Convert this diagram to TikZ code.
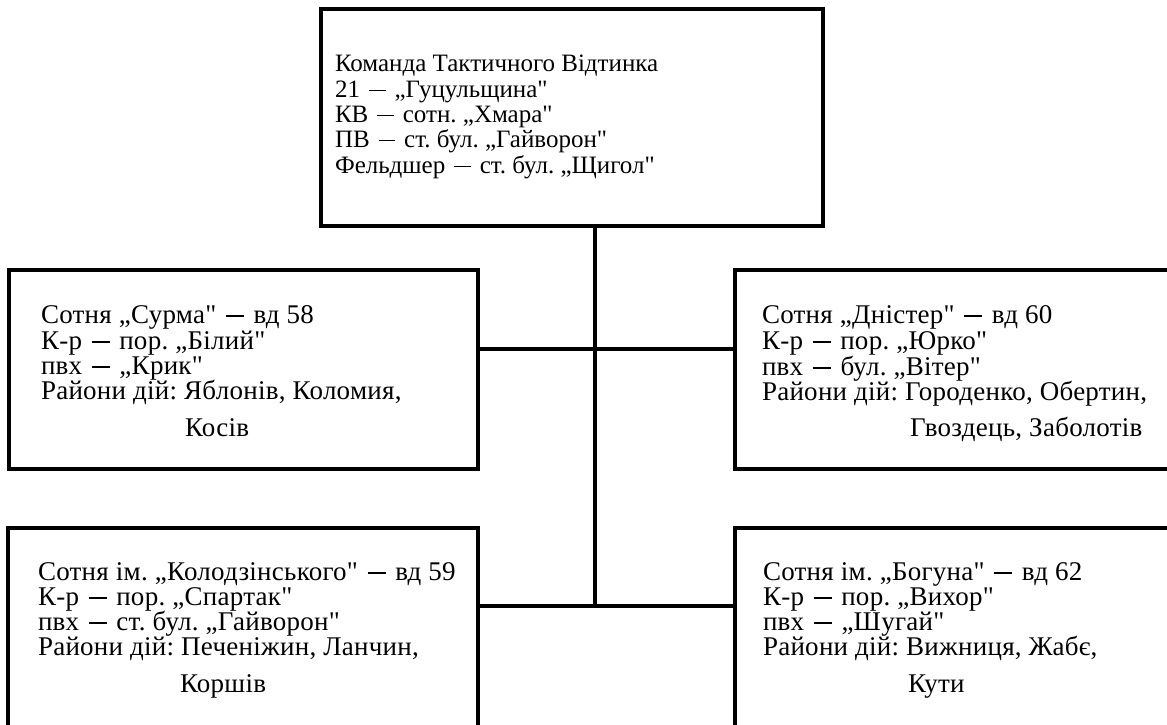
\documentclass[tikz,border=0pt]{standalone}
\usepackage{fontspec}
\setmainfont{Liberation Serif}[Ligatures=TeXOff]
\newfontfamily\boxfont{Liberation Serif}[Ligatures=TeXOff, LetterSpace=1]
\newcommand\tdash{\unskip\hspace{0.36em}\rule[0.23em]{0.66em}{1.3pt}\hspace{0.36em}\ignorespaces}
\frenchspacing
\begin{document}
\begin{tikzpicture}[x=1pt,y=-1pt,
  box/.style={draw, line width=4.5pt, inner sep=0pt, outer sep=0pt},
  conn/.style={draw, line width=4.5pt},
  txt/.style={anchor=base west, inner sep=0pt, outer sep=0pt, font=\frenchspacing\fontsize{25pt}{25pt}\selectfont},
  stxt/.style={anchor=base west, inner sep=0pt, outer sep=0pt, font=\frenchspacing\boxfont\fontsize{27pt}{25pt}\selectfont}]
\useasboundingbox (0,0) rectangle (1167,725);
\clip (0,0) rectangle (1167,725);
% boxes
\node[box, minimum width=502pt, minimum height=217pt] (top) at (572,117.5) {};
\node[box, minimum width=469pt, minimum height=199pt] (lm) at (243.5,369.5) {};
\node[box, minimum width=445pt, minimum height=199pt] (rm) at (957.5,369.5) {};
\node[box, minimum width=470pt, minimum height=212pt] (lb) at (243,634) {};
\node[box, minimum width=445pt, minimum height=212pt] (rb) at (957.5,634) {};
% junctions
\coordinate (jt) at (595,349);
\coordinate (jb) at (595,606);
\draw[conn] (top.south -| jt) -- (jb);
\draw[conn] (lm.east |- jt) -- (rm.west |- jt);
\draw[conn] (lb.east |- jb) -- (rb.west |- jb);
% top text
\node[txt] (t1) at (335,72) {Команда Тактичного Відтинка};
\node[txt] (t2) at (335,97) {21 \tdash „Гуцульщина"};
\node[txt] (t3) at (335,122) {КВ \tdash сотн. „Хмара"};
\node[txt] (t4) at (335,147) {ПВ \tdash ст. бул. „Гайворон"};
\node[txt] (t5) at (335,173) {Фельдшер \tdash ст. бул. „Щигол"};
% left middle
\node[stxt] (a1) at (41,323) {Сотня „Сурма" \tdash вд 58};
\node[stxt] (a2) at (41,349) {К-р \tdash пор. „Білий"};
\node[stxt] (a3) at (41,374) {пвх \tdash „Крик"};
\node[stxt] (a4) at (41,399) {Райони дій: Яблонів, Коломия,};
\node[stxt] (a5) at (185,436) {Косів};
% right middle
\node[stxt] (b1) at (762,323) {Сотня „Дністер" \tdash вд 60};
\node[stxt] (b2) at (762,349) {К-р \tdash пор. „Юрко"};
\node[stxt] (b3) at (762,375) {пвх \tdash бул. „Вітер"};
\node[stxt] (b4) at (762,400) {Райони дій: Городенко, Обертин,};
\node[stxt] (b5) at (910,436) {Гвоздець, Заболотів};
% left bottom
\node[stxt] (c1) at (38,580) {Сотня ім. „Колодзінського" \tdash вд 59};
\node[stxt] (c2) at (38,605) {К-р \tdash пор. „Спартак"};
\node[stxt] (c3) at (38,630) {пвх \tdash ст. бул. „Гайворон"};
\node[stxt] (c4) at (38,655) {Райони дій: Печеніжин, Ланчин,};
\node[stxt] (c5) at (180,692) {Коршів};
% right bottom
\node[stxt] (d1) at (763,580) {Сотня ім. „Богуна" \tdash вд 62};
\node[stxt] (d2) at (763,605) {К-р \tdash пор. „Вихор"};
\node[stxt] (d3) at (763,630) {пвх \tdash „Шугай"};
\node[stxt] (d4) at (763,655) {Райони дій: Вижниця, Жабє,};
\node[stxt] (d5) at (908,692) {Кути};
\end{tikzpicture}
\end{document}
